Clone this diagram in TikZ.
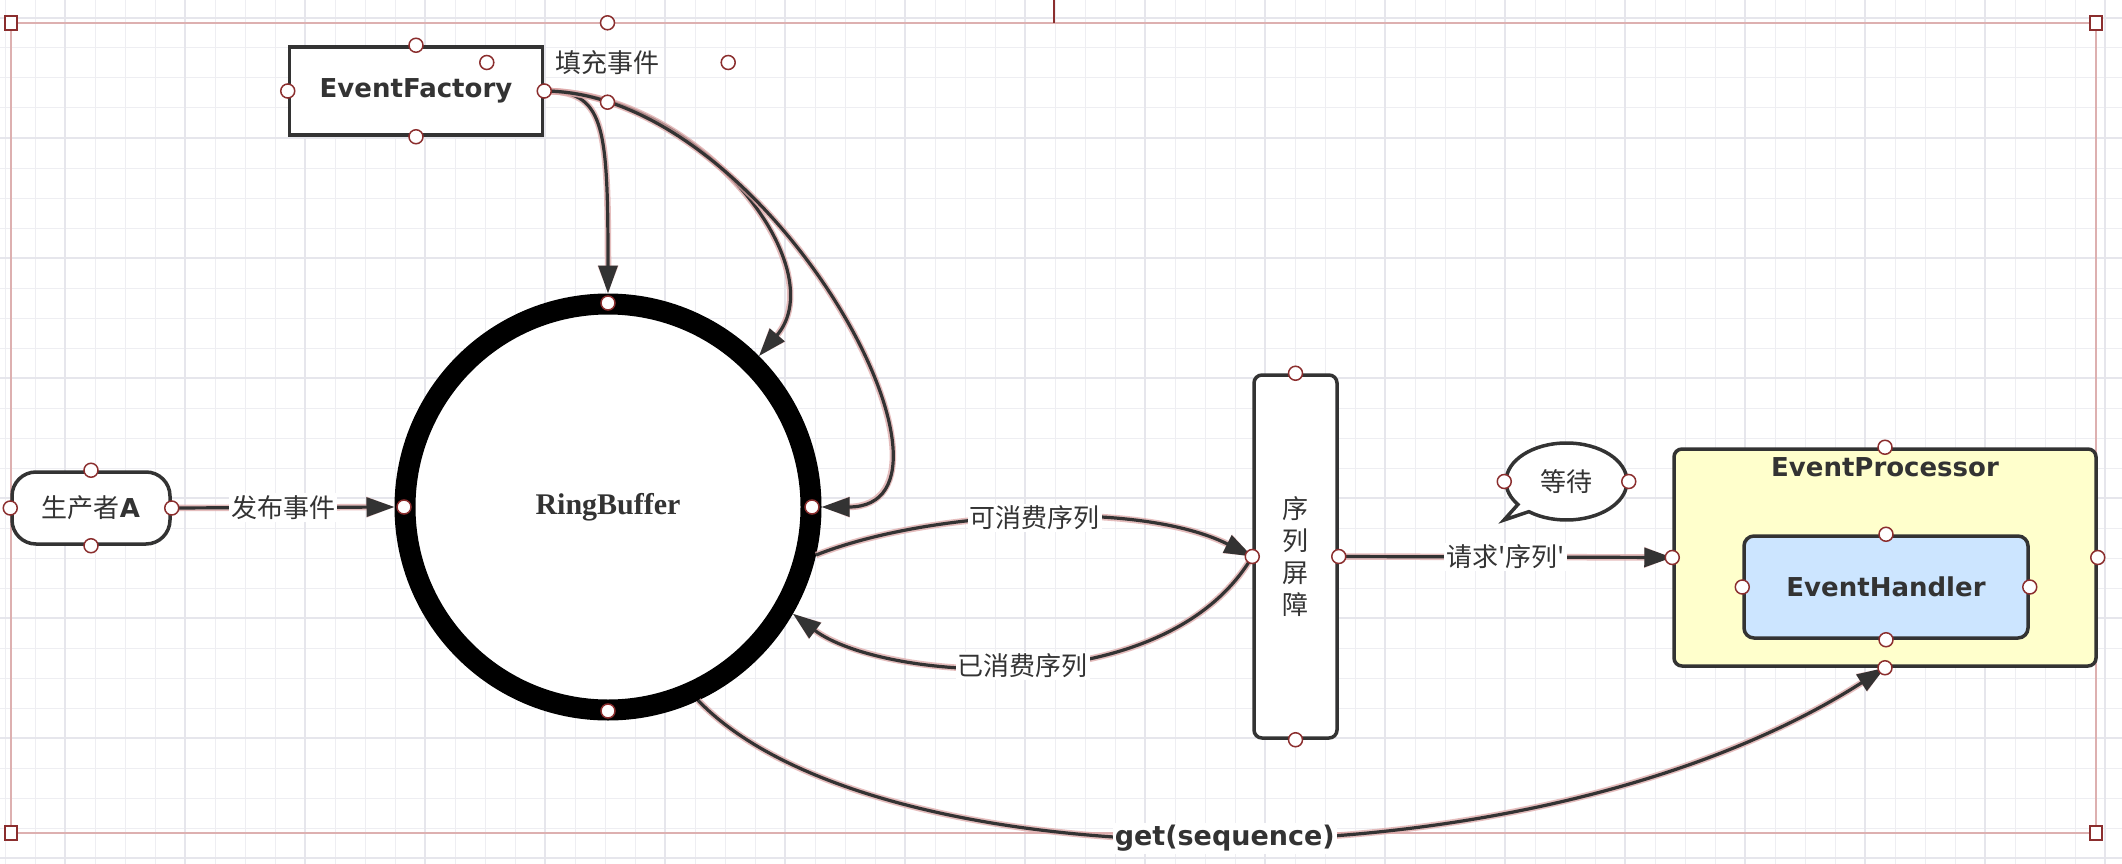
\documentclass[tikz,border=0pt]{standalone}
\usepackage{fontspec}
\usetikzlibrary{arrows.meta,shapes.callouts,positioning}
\newfontfamily\zhfont{Noto Sans CJK SC}
\newfontfamily\boxfont{DejaVu Sans}
\newfontfamily\ringfont{Liberation Serif}
\definecolor{ink}{HTML}{333333}
\definecolor{gridc}{HTML}{EEEEF2}
\definecolor{gridm}{HTML}{E6E6EC}
\definecolor{framered}{HTML}{DDB0B0}
\definecolor{hdlred}{HTML}{8B2E2E}
\definecolor{halo}{HTML}{DDA8A8}
\definecolor{procfill}{HTML}{FFFFCC}
\definecolor{handfill}{HTML}{CCE5FF}

\begin{document}
\begin{tikzpicture}[x=1pt,y=-1pt,
	box/.style={draw=ink,line width=3.5pt,fill=white,text=ink,font=\boxfont\bfseries\fontsize{26}{31}\selectfont},
	zh/.style={text=ink,font=\zhfont\fontsize{26}{31}\selectfont},
	conn/.style={draw=ink,line width=3.2pt,-{Triangle[length=28pt,width=19pt]},preaction={draw=halo,line width=6.5pt,opacity=.75}},
	onconn/.style={zh,fill=white,inner sep=2pt},
	hdl/.style={draw=hdlred,fill=white,line width=1.5pt},
	gridminor/.style={draw=gridc,line width=1pt},
	gridmajor/.style={draw=gridm,line width=2.5pt}]
	\useasboundingbox (0,0) rectangle (2122,864);
	\fill[white] (0,0) rectangle (2122,864);
	\foreach \x in {5,35,...,2122} \draw[gridminor] (\x,0) -- (\x,864);
	\foreach \y in {18,48,...,864} \draw[gridminor] (0,\y) -- (2122,\y);
	\foreach \x in {65,185,...,2122} \draw[gridmajor] (\x,0) -- (\x,864);
	\foreach \y in {18,138,...,864} \draw[gridmajor] (0,\y) -- (2122,\y);
	% selection frame
	\draw[framered,line width=1.5pt] (11,23) rectangle (2096,833);
	\draw[hdlred,line width=1.5pt] (1054,0) -- (1054,23);
	\foreach \c in {(11,23),(2096,23),(11,833),(2096,833)}
		\draw[hdl] \c ++(-6pt,-7pt) rectangle ++(12pt,14pt);

	\node[box,minimum width=253pt,minimum height=88pt] (ef) at (416,91) {EventFactory};
	\node[zh,minimum width=241pt,minimum height=79pt] (fillev) at (607.5,62.5) {填充事件};
	\node[draw=black,line width=21pt,circle,fill=white,minimum size=406pt,text=ink,
		font=\ringfont\bfseries\fontsize{30}{34}\selectfont] (rb) at (608,507) {RingBuffer};
	\node[box,rounded corners=24pt,minimum width=158pt,minimum height=72pt,
		font=\zhfont\fontsize{26}{31}\selectfont] (prod) at (91,508) {生产者{\boxfont\bfseries A}};
	\node[box,rounded corners=8pt,minimum width=83pt,minimum height=363pt,align=center,
		font=\zhfont\fontsize{26}{32}\selectfont] (bar) at (1295.5,556.5) {序\\列\\屏\\障};
	\node[draw=ink,line width=3.5pt,fill=white,ellipse callout,callout absolute pointer={(1504,520)},
		minimum width=121pt,minimum height=77pt,zh] (wait) at (1566.5,481.5) {等待};
	\node[box,rounded corners=8pt,fill=procfill,minimum width=422pt,minimum height=217pt] (ep) at (1885,557.5) {};
	\node[box,draw=none,fill=none,below=5pt of ep.north] (eptitle) {EventProcessor};
	\node[box,rounded corners=10pt,fill=handfill,minimum width=284pt,minimum height=102pt] (eh) at (1886,587) {EventHandler};

	\draw[conn] (prod.east) -- (rb.west) node[onconn,midway] (lpub) {发布事件};
	\draw[conn] (ef.east) .. controls +(60,0) and +(0,-170) .. (rb.north);
	\draw[conn] (ef.east) .. controls (700,92) and (835,268) .. (rb.45);
	\draw[conn] (ef.east) .. controls (770,92) and (990,507) .. (rb.east);
	\draw[conn] (rb.-13.6) .. controls (930,510) and (1140,500) .. (bar.west) node[onconn,pos=.5] (lcan) {可消费序列};
	\draw[conn] (bar.west) .. controls (1165,705) and (880,680) .. (rb.-30.6) node[onconn,pos=.5] (ldone) {已消费序列};
	\draw[conn] (bar.east) -- (ep.west) node[onconn,midway] (lreq) {请求'序列'};
	\draw[conn] (rb.-65) .. controls (875,885) and (1530,895) .. (ep.south)
		node[onconn,pos=.5,font=\boxfont\bfseries\fontsize{27}{32}\selectfont] (lget) {get(sequence)};

	\foreach \h in {ef.north,ef.south,ef.east,ef.west,fillev.north,fillev.south,fillev.east,fillev.west,
		prod.north,prod.south,prod.east,prod.west,bar.north,bar.south,bar.east,bar.west,wait.east,wait.west,
		ep.north,ep.south,ep.east,ep.west,eh.north,eh.south,eh.east,eh.west}
		\draw[hdl] (\h) circle (7pt);
	\foreach \a in {0,90,180,270}
		\draw[hdl] (rb.center) ++(\a:204pt) circle (7pt);
\end{tikzpicture}
\end{document}
